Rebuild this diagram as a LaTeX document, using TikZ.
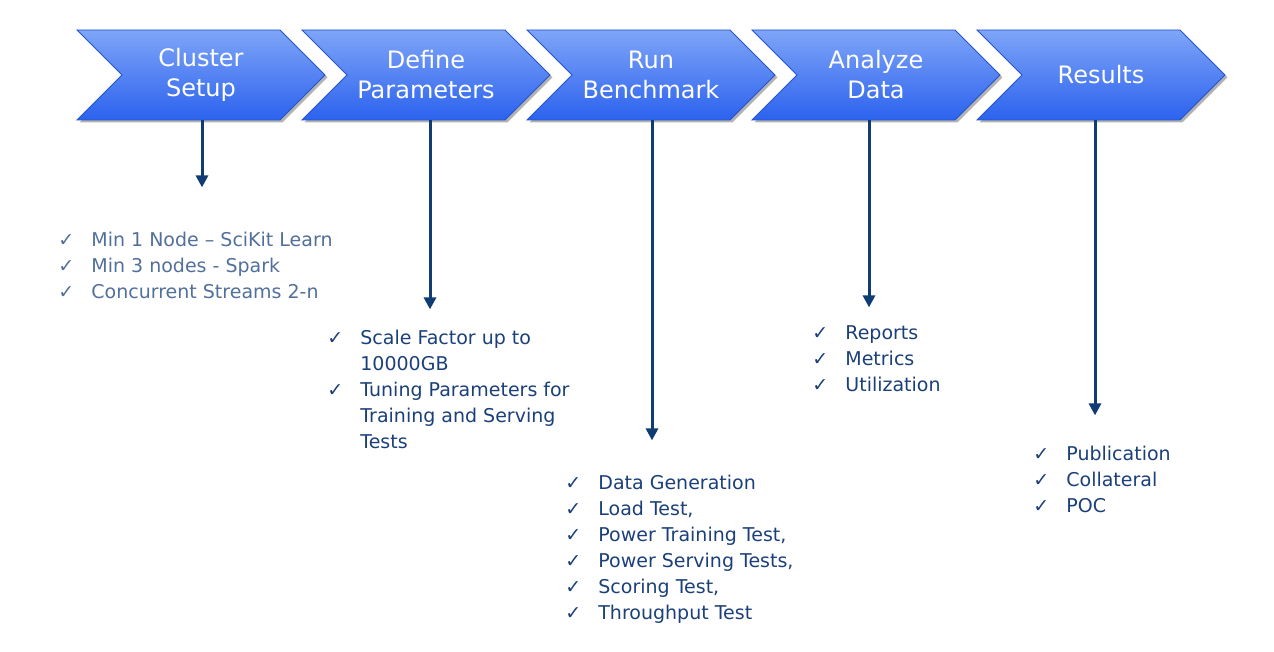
\documentclass[tikz,border=0pt]{standalone}
\usepackage{fontspec}
\setmainfont{DejaVu Sans}
\usetikzlibrary{arrows.meta}
\usetikzlibrary{shapes.symbols}
\usetikzlibrary{shadows}
\usetikzlibrary{positioning}
\definecolor{stepblue}{HTML}{2C62EE}
\definecolor{steplight}{HTML}{7EA5F8}
\definecolor{arrownavy}{HTML}{0E3C73}
\definecolor{listblue}{HTML}{1B4079}
\definecolor{listgrey}{HTML}{52709A}
\newcommand{\chk}{\makebox[16.5pt][l]{\char"2713}}
\newcommand{\cont}{\hspace*{16.5pt}}
\tikzset{
    stepbox/.style={signal, signal from=west, signal to=east, signal pointer angle=90,
        minimum width=124pt, minimum height=45pt, inner sep=0pt,
        top color=steplight, bottom color=stepblue, draw=stepblue!85!black, line width=0.4pt,
        drop shadow={shadow xshift=1.2pt, shadow yshift=-1.2pt, opacity=0.3, fill=black},
        text=white, align=center, font=\fontsize{12}{15}\selectfont},
    feed/.style={draw=arrownavy, line width=1.5pt, -{Triangle[length=6pt,width=6pt]}},
    itemlist/.style={anchor=north west, inner sep=0pt, align=left, text=listblue,
        font=\fontsize{9.5}{13}\selectfont}
}
\begin{document}
\begin{tikzpicture}[x=0.5pt, y=-0.5pt]
  \useasboundingbox (0,0) rectangle (1274,652);
  % steps
  \node[stepbox] (setup) at (201,75) {Cluster\\Setup};
  \node[stepbox] (params) at (426,75) {Define\\Parameters};
  \node[stepbox] (bench) at (651,75) {Run\\Benchmark};
  \node[stepbox] (analyze) at (876,75) {Analyze\\Data};
  \node[stepbox] (results) at (1101,75) {Results};
  % arrow ends
  \path (setup.south) ++(1,67) coordinate (setupend);
  \path (params.south) ++(4,189) coordinate (paramsend);
  \path (bench.south) ++(1,320) coordinate (benchend);
  \path (analyze.south) ++(-7,187) coordinate (analyzeend);
  \path (results.south) ++(-6,295) coordinate (resultsend);
  \draw[feed] ([xshift=0.5pt]setup.south) -- (setupend);
  \draw[feed] ([xshift=2pt]params.south) -- (paramsend);
  \draw[feed] ([xshift=0.5pt]bench.south) -- (benchend);
  \draw[feed] ([xshift=-3.5pt]analyze.south) -- (analyzeend);
  \draw[feed] ([xshift=-3pt]results.south) -- (resultsend);
  % lists
  \node[itemlist, text=listgrey] (setuplist) at (58,232)
    {\chk Min 1 Node -- SciKit Learn\\ \chk Min 3 nodes - Spark\\ \chk Concurrent Streams 2-n};
  \node[itemlist] (paramslist) at (327,330)
    {\chk Scale Factor up to\\ \cont 10000GB\\ \chk Tuning Parameters for\\ \cont Training and Serving\\ \cont Tests};
  \node[itemlist] (benchlist) at (565,475)
    {\chk Data Generation\\ \chk Load Test,\\ \chk Power Training Test,\\ \chk Power Serving Tests,\\ \chk Scoring Test,\\ \chk Throughput Test};
  \node[itemlist] (analyzelist) at (812,325)
    {\chk Reports\\ \chk Metrics\\ \chk Utilization};
  \node[itemlist] (resultslist) at (1033,446)
    {\chk Publication\\ \chk Collateral\\ \chk POC};
\end{tikzpicture}
\end{document}
